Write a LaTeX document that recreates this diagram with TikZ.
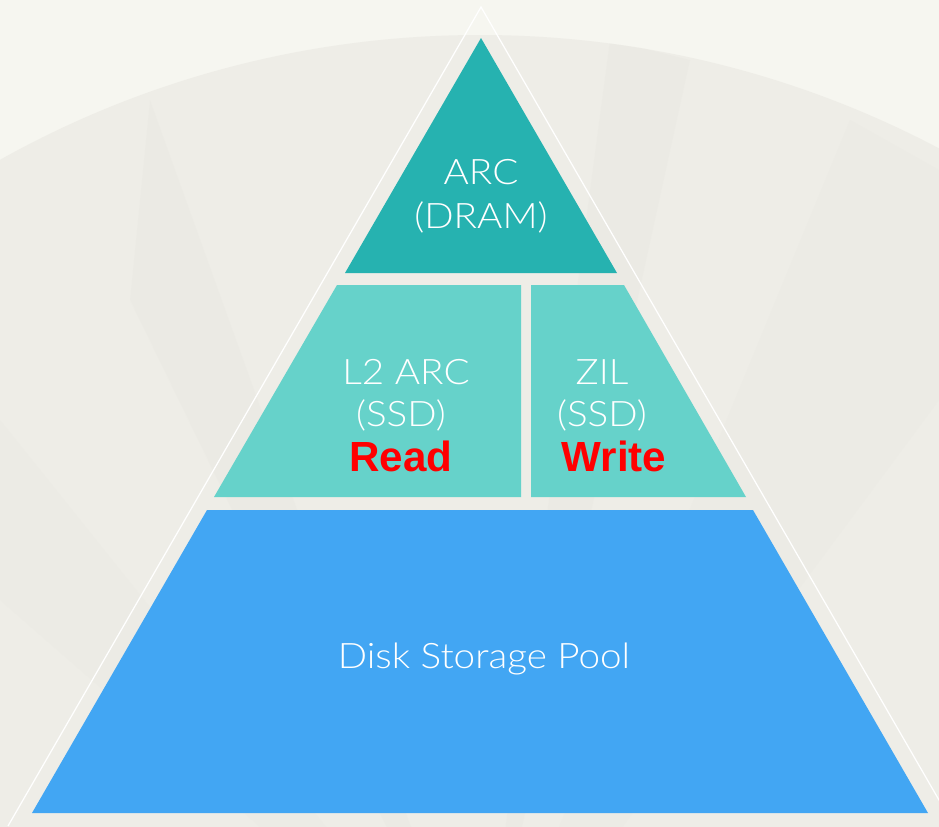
\documentclass[tikz,border=0pt]{standalone}
\usepackage{fontspec}
\IfFontExistsTF{Lato Light}{\newfontfamily\labelfont[FakeStretch=1.1]{Lato Light}}{\newfontfamily\labelfont[FakeStretch=1.1]{Lato}}
\newfontfamily\emphfont{Liberation Sans}
\definecolor{bgout}{RGB}{246,246,240}
\definecolor{bgfan}{RGB}{238,237,231}
\definecolor{bgfan2}{RGB}{232,231,225}
\definecolor{arcc}{RGB}{38,178,176}
\definecolor{ssdc}{RGB}{102,210,202}
\definecolor{diskc}{RGB}{66,166,243}
\definecolor{redc}{RGB}{255,0,0}
\tikzset{
  lbl/.style={anchor=base, inner sep=0pt, text=white, font=\labelfont\fontsize{20}{24}\selectfont},
  rw/.style={anchor=base, inner sep=0pt, text=redc, font=\emphfont\bfseries\fontsize{24}{28}\selectfont},
}
\begin{document}
\begin{tikzpicture}[x=0.02cm,y=-0.02cm]
\useasboundingbox (0,0) rectangle (939,826);
\fill[bgout] (0,0) rectangle (939,826);
\begin{scope}
\clip (0,0) rectangle (939,826);
\fill[bgfan] (480,1019) circle[radius=984];
\begin{scope}
\clip (480,1019) circle[radius=984];
\fill[bgfan2,opacity=0.35] (480,1019) -- (130,300) -- (150,100) -- cycle;
\fill[bgfan2,opacity=0.35] (480,1019) -- (610,40) -- (690,60) -- cycle;
\fill[bgfan2,opacity=0.3] (480,1019) -- (850,120) -- (939,170) -- (939,400) -- cycle;
\fill[bgfan2,opacity=0.3] (480,1019) -- (0,420) -- (0,600) -- cycle;
\end{scope}
\draw[white, line width=0.7pt] (8,826) -- (481,7) -- (954,826);
\end{scope}
% tiers
\fill[arcc] (481,38) -- (617,273) -- (345,273) -- cycle;
\fill[ssdc] (337,285) -- (521,285) -- (521,497) -- (214,497) -- cycle;
\fill[ssdc] (531,285) -- (624,285) -- (746,497) -- (531,497) -- cycle;
\fill[diskc] (207,510) -- (753,510) -- (928,813) -- (32,813) -- cycle;
% labels
\node[lbl] (arc1) at (481,184) {ARC};
\node[lbl] (arc2) at (481,228) {(DRAM)};
\node[lbl] (l2a) at (406,384) {L2 ARC};
\node[lbl] (l2b) at (401,426) {(SSD)};
\node[rw] (read) at (401,471) {Read};
\node[lbl] (zil1) at (602,384) {ZIL};
\node[lbl] (zil2) at (602,426) {(SSD)};
\node[rw] (write) at (614,471) {Write};
\node[lbl] (disk) at (484,668) {Disk Storage Pool};
\end{tikzpicture}
\end{document}
